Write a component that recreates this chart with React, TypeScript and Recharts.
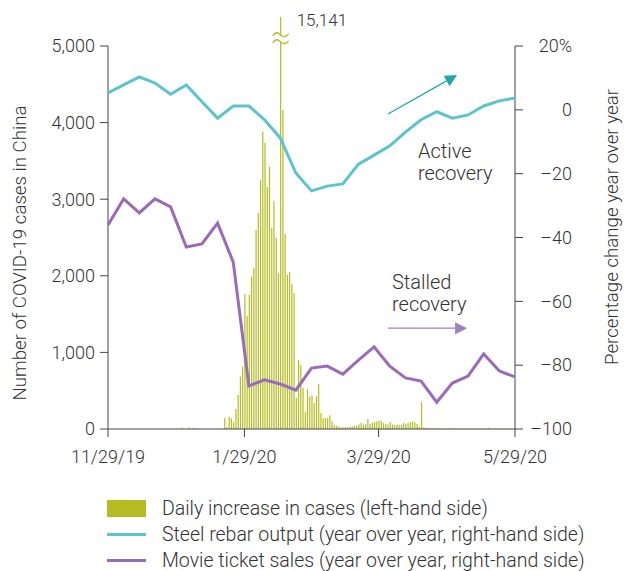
import { ComposedChart, Bar, Line, XAxis, YAxis, ReferenceLine, ReferenceDot } from 'recharts';

// x axis is days counted from 11/29/19
const X_TICKS = [0, 61, 121, 182];
const X_TICK_LABELS = ['11/29/19', '1/29/20', '3/29/20', '5/29/20'];

const LEFT_TICKS = [0, 1000, 2000, 3000, 4000, 5000];
const RIGHT_TICKS = [-100, -80, -60, -40, -20, 0, 20];

// daily increase in cases, one value per day from 11/29/19 to 5/29/20
const DAILY_CASES = [
  0, 0, 0, 0, 0, 0, 0, 0, 0, 0,
  0, 0, 0, 0, 0, 0, 0, 0, 0, 0,
  0, 0, 0, 0, 0, 0, 0, 0, 0, 0,
  0, 0, 0, 17, 0, 0, 20, 0, 15, 0,
  0, 0, 0, 0, 0, 0, 0, 0, 0, 0,
  0, 0, 145, 25, 160, 140, 95, 260, 445, 685,
  815, 1760, 1475, 1750, 1990, 2100, 2600, 2820, 3250, 3880,
  3735, 3160, 3420, 2625, 2975, 2495, 2035, 15141, 4165, 2545,
  2010, 2050, 1890, 1775, 405, 900, 835, 535, 220, 520,
  420, 440, 340, 430, 585, 210, 140, 140, 145, 180,
  100, 50, 40, 30, 22, 20, 25, 22, 30, 35,
  40, 45, 60, 78, 57, 65, 130, 65, 80, 91,
  100, 109, 100, 78, 65, 60, 91, 57, 50, 57,
  50, 55, 78, 65, 75, 91, 100, 91, 65, 30,
  350, 20, 15, 10, 12, 8, 5, 12, 6, 4,
  10, 3, 7, 5, 15, 4, 6, 11, 3, 5,
  8, 2, 6, 4, 9, 3, 5, 7, 2, 4,
  16, 3, 5, 2, 6, 4, 3, 8, 2, 5,
  3, 4, 2,
];

// weekly readings, % change year over year
const STEEL_REBAR = [
  5.3, 7.8, 10.3, 8.4, 4.9, 7.8, 2.5, -2.6, 1.2, 1.2, -3.1, -8.8, -19.8, -25.4,
  -23.9, -23.2, -17.0, -14.2, -11.3, -7.0, -3.1, -0.6, -2.6, -1.6, 1.2, 2.8, 3.7,
];
const MOVIE_TICKETS = [
  -36.1, -27.9, -32.3, -27.9, -30.4, -43.0, -42.0, -35.5, -47.7, -86.5, -84.6, -85.9, -87.8, -80.9,
  -80.3, -82.8, -78.4, -74.3, -80.3, -84.0, -85.0, -91.6, -85.6, -83.4, -76.5, -81.8, -83.7,
];

const BAR_COLOR = '#B5BC22';
const STEEL_COLOR = '#5DC4CD';
const MOVIE_COLOR = '#9A6BB7';
const TEXT = '#333';
const AXIS = '#444';
const CAP = 5380; // spike bar is cut off here and drawn with a break

const data = DAILY_CASES.map((cases, day) => ({
  day,
  cases,
  steel: day % 7 === 0 ? STEEL_REBAR[day / 7] : null,
  movie: day % 7 === 0 ? MOVIE_TICKETS[day / 7] : null,
}));

const fmtPct = (v: number) => (v === 20 ? '20%' : v < 0 ? `\u2013${Math.abs(v)}` : `${v}`);

const CaseBar = (props: any) => {
  const { x, y, width, height, payload } = props;
  if (!height || height <= 0) return null;
  if (payload.cases <= CAP) {
    return <rect x={x} y={y} width={width} height={height} fill={BAR_COLOR} />;
  }
  const cx = x + width / 2;
  const wave = (yc: number) => `M${cx - 8},${yc + 1} c3,-5 6,-3 8,-1 s5,3 8,-1`;
  return (
    <g>
      <rect x={x} y={y} width={width} height={height} fill={BAR_COLOR} />
      <rect x={cx - 9} y={y + 19} width={18} height={6} fill="#fff" />
      <path d={wave(y + 18)} stroke={BAR_COLOR} strokeWidth={1.3} fill="none" />
      <path d={wave(y + 25)} stroke={BAR_COLOR} strokeWidth={1.3} fill="none" />
      <text x={cx + 16} y={y + 9} fontSize={17} fill={TEXT}>
        {payload.cases.toLocaleString('en-US')}
      </text>
    </g>
  );
};

const RightTick = ({ x, y, payload }: any) => (
  <text x={x + 47} y={y} dy="0.35em" textAnchor="end" fontSize={18} fill={TEXT}>
    {fmtPct(payload.value)}
  </text>
);

const arrow = (color: string) => (p: any) => {
  const { x1, y1, x2, y2 } = p;
  const a = Math.atan2(y2 - y1, x2 - x1);
  const len = 12;
  const half = 6;
  const bx = x2 - len * Math.cos(a);
  const by = y2 - len * Math.sin(a);
  const nx = -Math.sin(a) * half;
  const ny = Math.cos(a) * half;
  return (
    <g>
      <line x1={x1} y1={y1} x2={bx} y2={by} stroke={color} strokeWidth={1.3} />
      <polygon points={`${x2},${y2} ${bx + nx},${by + ny} ${bx - nx},${by - ny}`} fill={color} />
    </g>
  );
};

const note = (lines: string[]) => (p: any) => (
  <text x={p.cx} y={p.cy} fontSize={20} fill={TEXT}>
    {lines.map((l, i) => (
      <tspan key={l} x={p.cx} dy={i === 0 ? 0 : 22}>{l}</tspan>
    ))}
  </text>
);

const legendRows = [
  { label: 'Daily increase in cases (left-hand side)', kind: 'bar', color: BAR_COLOR },
  { label: 'Steel rebar output (year over year, right-hand side)', kind: 'line', color: STEEL_COLOR },
  { label: 'Movie ticket sales (year over year, right-hand side)', kind: 'line', color: MOVIE_COLOR },
];

export default function App() {
  return (
    <div style={{ position: 'absolute', left: 0, top: 0, width: 635, height: 571, background: '#fff', fontFamily: 'Roboto, sans-serif', fontWeight: 300 }}>
      <ComposedChart width={635} height={571} data={data} margin={{ top: 7.7, right: 0, bottom: 0, left: 0 }}>
        <XAxis
          dataKey="day"
          type="number"
          domain={[0, 182]}
          ticks={X_TICKS}
          tickFormatter={(v: number) => X_TICK_LABELS[X_TICKS.indexOf(v)]}
          height={142}
          tickSize={8}
          tickMargin={13}
          stroke={AXIS}
          tick={{ fill: TEXT, fontSize: 18 }}
        />
        <YAxis
          yAxisId="left"
          domain={[0, 5500]}
          ticks={LEFT_TICKS}
          tickFormatter={(v: number) => v.toLocaleString('en-US')}
          width={108}
          tickSize={8}
          tickMargin={5}
          axisLine={false}
          stroke={AXIS}
          tick={{ fill: TEXT, fontSize: 18 }}
          label={{
            content: () => (
              <text transform="translate(20,253) rotate(-90)" textAnchor="middle" dominantBaseline="central" fontSize={18.7} fill={TEXT}>
                Number of COVID-19 cases in China
              </text>
            ),
          }}
        />
        <YAxis
          yAxisId="right"
          orientation="right"
          domain={[-100, 32]}
          ticks={RIGHT_TICKS}
          width={120}
          tickSize={8}
          tickMargin={2}
          axisLine={false}
          stroke={AXIS}
          tick={<RightTick />}
          label={{
            content: () => (
              <text transform="translate(612,227) rotate(-90)" textAnchor="middle" dominantBaseline="central" fontSize={18.7} fill={TEXT}>
                Percentage change year over year
              </text>
            ),
          }}
        />
        <ReferenceLine yAxisId="left" segment={[{ x: 0, y: 0 }, { x: 0, y: 5000 }]} stroke={AXIS} />
        <ReferenceLine yAxisId="right" segment={[{ x: 182, y: -100 }, { x: 182, y: 20 }]} stroke={AXIS} />
        <Bar
          yAxisId="left"
          dataKey={(d: any) => Math.min(d.cases, CAP)}
          barSize={1.2}
          fill={BAR_COLOR}
          shape={CaseBar}
          isAnimationActive={false}
        />
        <Line yAxisId="right" type="linear" dataKey="steel" stroke={STEEL_COLOR} strokeWidth={3} dot={false} connectNulls isAnimationActive={false} />
        <Line yAxisId="right" type="linear" dataKey="movie" stroke={MOVIE_COLOR} strokeWidth={3} dot={false} connectNulls isAnimationActive={false} />
        <ReferenceLine yAxisId="right" segment={[{ x: 125.2, y: -1.3 }, { x: 156.1, y: 10.9 }]} shape={arrow('#1FA5AF')} />
        <ReferenceLine yAxisId="right" segment={[{ x: 125.2, y: -68.4 }, { x: 160.6, y: -68.4 }]} shape={arrow('#A37DC1')} />
        <ReferenceDot yAxisId="right" x={138.6} y={-15.1} r={0} shape={note(['Active', 'recovery'])} />
        <ReferenceDot yAxisId="right" x={127} y={-56.1} r={0} shape={note(['Stalled', 'recovery'])} />
      </ComposedChart>
      <div style={{ position: 'absolute', left: 107, top: 495, color: TEXT, fontSize: 19.5, lineHeight: '21px' }}>
        {legendRows.map((r) => (
          <div key={r.label} style={{ display: 'flex', alignItems: 'center', height: 26 }}>
            {r.kind === 'bar' ? (
              <div style={{ width: 39, height: 17, background: r.color }} />
            ) : (
              <div style={{ width: 39, height: 3, background: r.color }} />
            )}
            <span style={{ marginLeft: 16, whiteSpace: 'nowrap' }}>{r.label}</span>
          </div>
        ))}
      </div>
    </div>
  );
}
